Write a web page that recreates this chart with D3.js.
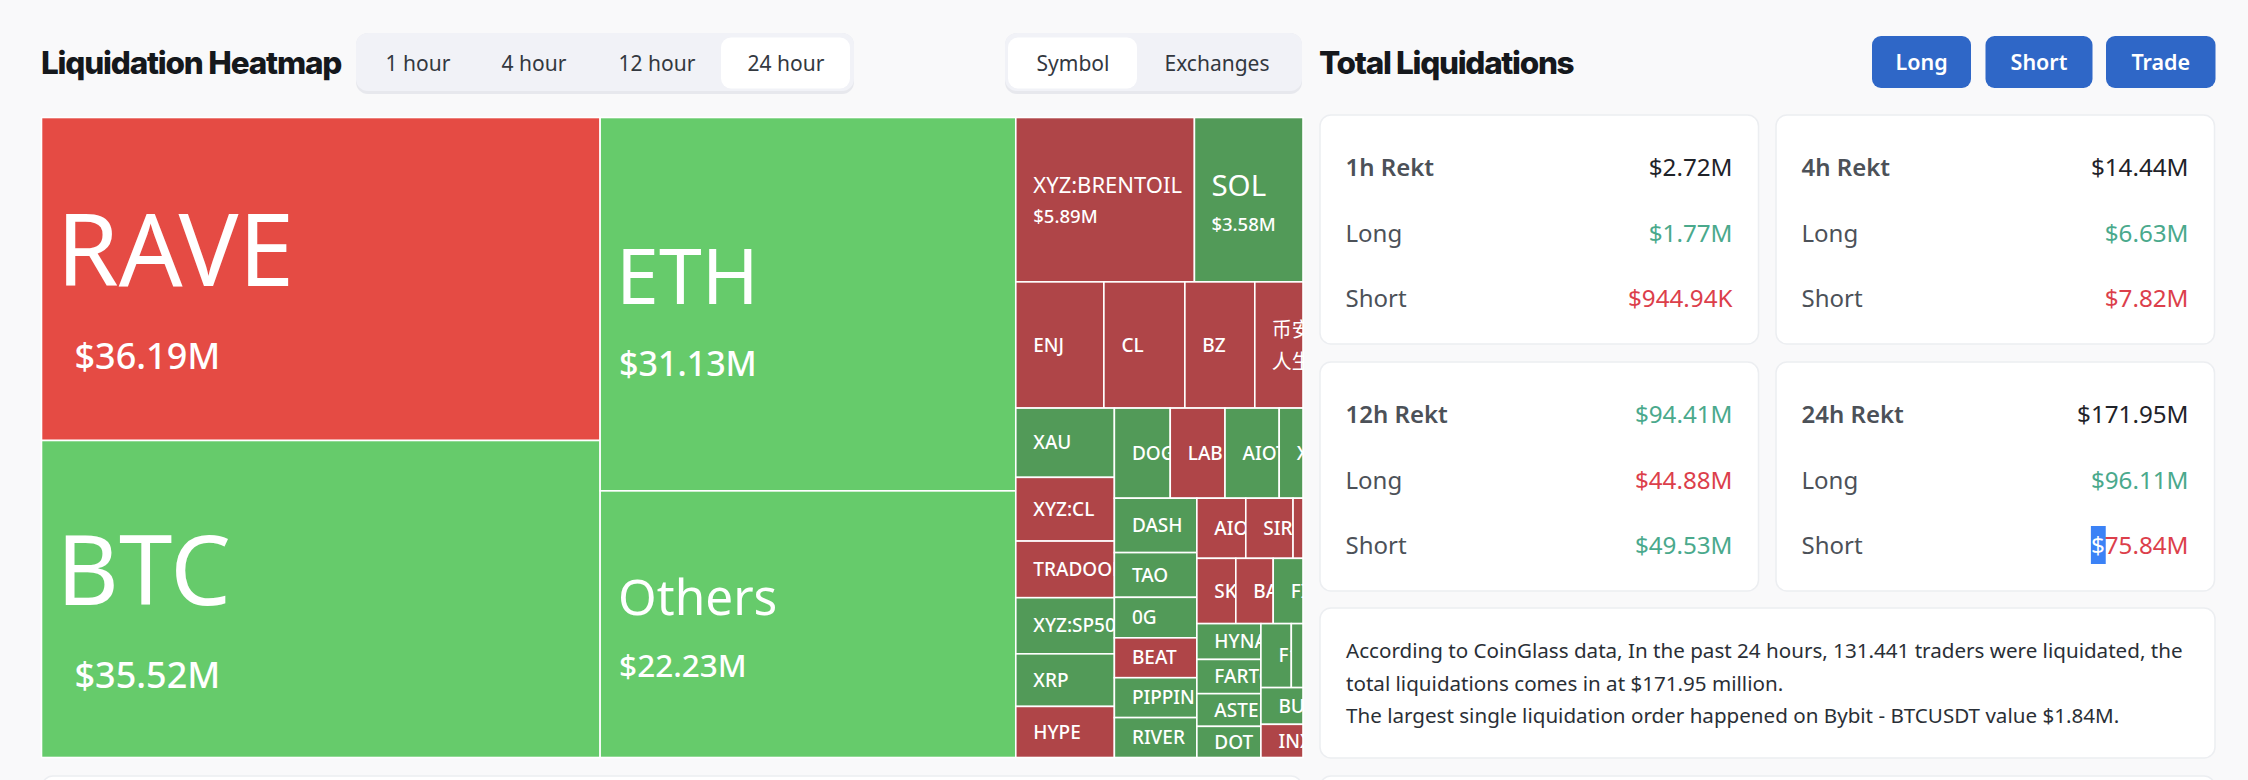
<!DOCTYPE html>
<html>
<head>
<meta charset="utf-8">
<title>Liquidation Heatmap</title>
<script src="https://cdn.jsdelivr.net/npm/d3@7"></script>
<style>
html, body { margin: 0; padding: 0; background: #f9f9fa; overflow: hidden; }
text { font-family: "Noto Sans", "Noto Sans CJK SC", sans-serif; }
text.heading { font-family: Inter, "Noto Sans", sans-serif; }
</style>
</head>
<body>
<div id="chart"></div>
<script>
// treemap cells, $M. groups have no value, nesting alternates columns / rows
var cellIds = ["root",
    "c1", "RAVE", "BTC",
    "c2", "ETH", "Others",
    "c3",
    "r1", "XYZ:BRENTOIL", "SOL",
    "r2", "ENJ", "CL", "BZ", "币安人生",
    "r3",
    "r3a", "XAU", "XYZ:CL", "TRADOOR", "XYZ:SP500", "XRP", "HYPE",
    "r3b",
    "r4", "DOGE", "LAB", "AIOT", "XPL",
    "r5",
    "r5a", "DASH", "TAO", "0G", "BEAT", "PIPPIN", "RIVER",
    "r5b",
    "r6", "AIO", "SIREN", "?1",
    "r7", "SKY", "BAN", "FIL",
    "r8",
    "r8a", "HYNA", "FARTCOIN", "ASTER", "DOT",
    "r8b",
    "r9", "F1", "?2",
    "BULL", "INX"];
var cellParents = ["",
    "root", "c1", "c1",
    "root", "c2", "c2",
    "root",
    "c3", "r1", "r1",
    "c3", "r2", "r2", "r2", "r2",
    "c3",
    "r3", "r3a", "r3a", "r3a", "r3a", "r3a", "r3a",
    "r3",
    "r3b", "r4", "r4", "r4", "r4",
    "r3b",
    "r5", "r5a", "r5a", "r5a", "r5a", "r5a", "r5a",
    "r5",
    "r5b", "r6", "r6", "r6",
    "r5b", "r7", "r7", "r7",
    "r5b",
    "r8", "r8a", "r8a", "r8a", "r8a",
    "r8",
    "r8b", "r9", "r9",
    "r8b", "r8b"];
var cellValues = [0,
    0, 36.19, 35.52,
    0, 31.13, 22.23,
    0,
    0, 5.89, 3.58,
    0, 2.23, 2.05, 1.77, 1.22,
    0,
    0, 1.37, 1.26, 1.12, 1.11, 1.04, 1.01,
    0,
    0, 1.01, 0.99, 0.98, 0.43,
    0,
    0, 0.90, 0.74, 0.67, 0.66, 0.66, 0.66,
    0,
    0, 0.59, 0.57, 0.12,
    0, 0.51, 0.49, 0.39,
    0,
    0, 0.46, 0.44, 0.42, 0.40,
    0,
    0, 0.39, 0.15,
    0.31, 0.28];
var downCells = ["RAVE", "XYZ:BRENTOIL", "ENJ", "CL", "BZ", "币安人生", "XYZ:CL", "TRADOOR", "HYPE",
    "LAB", "BEAT", "AIO", "SIREN", "?1", "SKY", "BAN", "INX"];

var periods = ["1 hour", "4 hour", "12 hour", "24 hour"];
var groupings = ["Symbol", "Exchanges"];
var actions = ["Long", "Short", "Trade"];

var rektWindows = ["1h Rekt", "4h Rekt", "12h Rekt", "24h Rekt"];
var rektTotals = ["$2.72M", "$14.44M", "$94.41M", "$171.95M"];
var rektLongs = ["$1.77M", "$6.63M", "$44.88M", "$96.11M"];
var rektShorts = ["$944.94K", "$7.82M", "$49.53M", "$75.84M"];
var totalTones = ["plain", "plain", "up", "plain"];
var longTones = ["up", "up", "down", "up"];
var shortTones = ["down", "down", "up", "down"];

var summaryLines = ["According to CoinGlass data, In the past 24 hours, 131.441 traders were liquidated, the",
    "total liquidations comes in at $171.95 million.",
    "The largest single liquidation order happened on Bybit - BTCUSDT value $1.84M."];

var width = 2248;
var height = 780;
var toneColors = {plain: "#1f2329", up: "#4aa98c", down: "#dc3f4b"};

var svg = d3.select("#chart").append("svg")
    .attr("width", width).attr("height", height)
    .style("display", "block");

svg.append("rect").attr("width", width).attr("height", height).attr("fill", "#f9f9fa");

// label placement for the cells that are large enough to carry a value, offsets from cell left / middle
var bigLabels = {
    "RAVE": {size: 100, dx: 15, dy: -28, valueSize: 36, valueDx: 33, valueDy: 77},
    "BTC": {size: 96, dx: 15, dy: -28, valueSize: 36, valueDx: 33, valueDy: 76},
    "ETH": {size: 77, dx: 16, dy: -27, valueSize: 34, valueDx: 19, valueDy: 60},
    "Others": {size: 49.5, dx: 18, dy: -26, valueSize: 31.5, valueDx: 19, valueDy: 42},
    "XYZ:BRENTOIL": {size: 22, dx: 17.5, dy: -14, valueSize: 18.5, valueDx: 17.5, valueDy: 17},
    "SOL": {size: 29.5, dx: 17, dy: -14, valueSize: 18.5, valueDx: 17, valueDy: 25}
};
var smallSize = 19;

function cellColor(d) {
    var down = downCells.indexOf(d.id) >= 0;
    if (d.value >= 10) return down ? "#e54b44" : "#66cb6b";
    return down ? "#af4548" : "#529a58";
}

function renderTreemap() {

    var rows = cellIds.map(function(id, i) {
        return {id: id, parent: cellParents[i], value: cellValues[i]};
    });

    var root = d3.stratify()
        .id(function(d) {return d.id;})
        .parentId(function(d) {return d.parent || null;})(rows)
        .sum(function(d) {return d.value;});

    d3.treemap()
        .tile(d3.treemapSliceDice)
        .size([1303 - 41.5, 757.5 - 117.5])(root);

    var chartGroup = svg.append("g").attr("transform", "translate(41.5, 117.5)");

    var cell = chartGroup.selectAll("g.cell").data(root.leaves()).enter()
        .append("g").attr("class", "cell")
        .attr("transform", function(d) {return "translate(" + d.x0 + ", " + d.y0 + ")";});

    cell.append("clipPath")
        .attr("id", function(d, i) {return "clip-" + i;})
        .append("rect")
        .attr("width", function(d) {return d.x1 - d.x0;})
        .attr("height", function(d) {return d.y1 - d.y0;});

    cell.append("rect")
        .attr("width", function(d) {return d.x1 - d.x0;})
        .attr("height", function(d) {return d.y1 - d.y0;})
        .attr("fill", cellColor)
        .attr("stroke", "#fff")
        .attr("stroke-width", 1.6);

    var label = cell.append("g")
        .attr("clip-path", function(d, i) {return "url(#clip-" + i + ")";})
        .attr("fill", "#fff");

    label.each(function(d) {

        if (d.id.charAt(0) == "?") return;

        var g = d3.select(this);
        var mid = (d.y1 - d.y0) / 2;
        var big = bigLabels[d.id];

        if (d.id == "币安人生") {
            g.append("text").attr("x", 17).attr("y", mid - 15).attr("dy", "0.35em").attr("font-size", 20).text("币安");
            g.append("text").attr("x", 17).attr("y", mid + 17).attr("dy", "0.35em").attr("font-size", 20).text("人生");
        } else if (big) {
            g.append("text").attr("x", big.dx).attr("y", mid + big.dy).attr("dy", "0.35em")
                .attr("font-size", big.size).text(d.id);
            g.append("text").attr("x", big.valueDx).attr("y", mid + big.valueDy).attr("dy", "0.35em")
                .attr("font-size", big.valueSize).attr("font-weight", 500).text(d3.format("$.2f")(d.value) + "M");
        } else {
            g.append("text").attr("x", 17.5).attr("y", mid).attr("dy", "0.35em")
                .attr("font-size", smallSize).attr("font-weight", 500).text(d.id);
        }
    });
}

function renderToggle(labels, centers, box, activeBox) {

    svg.append("rect").attr("x", box.x).attr("y", 33).attr("width", box.w).attr("height", 61)
        .attr("rx", 12).attr("fill", "#e7e8ed");
    svg.append("rect").attr("x", box.x).attr("y", 33).attr("width", box.w).attr("height", 58)
        .attr("rx", 12).attr("fill", "#f1f2f7");
    svg.append("rect").attr("x", activeBox.x).attr("y", 37.5).attr("width", activeBox.w).attr("height", 51)
        .attr("rx", 10).attr("fill", "#fff");

    svg.selectAll(null).data(labels).enter().append("text")
        .attr("x", function(d, i) {return centers[i];})
        .attr("y", 64).attr("dy", "0.35em")
        .attr("text-anchor", "middle")
        .attr("font-size", 21)
        .attr("fill", "#33383f")
        .text(function(d) {return d;});
}

function renderHeader() {

    svg.append("text").attr("class", "heading").attr("x", 41).attr("y", 63).attr("dy", "0.35em")
        .attr("font-weight", 800).attr("font-size", 31.5)
        .attr("letter-spacing", -1.2).attr("fill", "#15181c")
        .text("Liquidation Heatmap");

    svg.append("text").attr("class", "heading").attr("x", 1319).attr("y", 63).attr("dy", "0.35em")
        .attr("font-weight", 800).attr("font-size", 31.5)
        .attr("letter-spacing", -1.3).attr("fill", "#15181c")
        .text("Total Liquidations");

    renderToggle(periods, [418, 534, 657, 786], {x: 356, w: 498}, {x: 721, w: 129});
    renderToggle(groupings, [1073, 1217], {x: 1005, w: 297}, {x: 1008, w: 129});

    var buttonX = [1872, 1985.5, 2106];
    var buttonW = [99, 107, 109.5];

    var button = svg.selectAll("g.action").data(actions).enter().append("g").attr("class", "action");

    button.append("rect")
        .attr("x", function(d, i) {return buttonX[i];})
        .attr("y", 36).attr("height", 52)
        .attr("width", function(d, i) {return buttonW[i];})
        .attr("rx", 9).attr("fill", "#2f67c7");

    button.append("text")
        .attr("x", function(d, i) {return buttonX[i] + buttonW[i] / 2;})
        .attr("y", 62).attr("dy", "0.35em")
        .attr("text-anchor", "middle")
        .attr("font-size", 21.5).attr("font-weight", 600).attr("fill", "#fff")
        .text(function(d) {return d;});
}

function addCard(x, y, w, h) {
    return svg.append("rect").attr("x", x).attr("y", y).attr("width", w).attr("height", h)
        .attr("rx", 11).attr("fill", "#fff").attr("stroke", "#eceef1").attr("stroke-width", 1.5);
}

function renderCards() {

    var cardX = [1320, 1776, 1320, 1776];
    var cardY = [115, 115, 362, 362];
    var cardW = 438.5;
    var cardH = 229;
    var rowOffset = [53, 119, 184];

    rektWindows.forEach(function(name, i) {

        addCard(cardX[i], cardY[i], cardW, cardH);

        var labels = [name, "Long", "Short"];
        var values = [rektTotals[i], rektLongs[i], rektShorts[i]];
        var tones = [totalTones[i], longTones[i], shortTones[i]];

        labels.forEach(function(label, r) {

            svg.append("text").attr("x", cardX[i] + 25.5).attr("y", cardY[i] + rowOffset[r]).attr("dy", "0.35em")
                .attr("font-size", 24).attr("font-weight", r == 0 ? 600 : 400)
                .attr("fill", "#4c5158").text(label);

            var value = svg.append("text").attr("x", cardX[i] + 412.5).attr("y", cardY[i] + rowOffset[r]).attr("dy", "0.35em")
                .attr("text-anchor", "end").attr("font-size", 24.2)
                .attr("fill", toneColors[tones[r]]);

            // the $ of the last value is selected in the reference
            if (i == 3 && r == 2) {
                value.text(values[r]);
                var box = value.node().getExtentOfChar(0);
                svg.append("rect").attr("x", box.x).attr("y", 526).attr("width", box.width + 1).attr("height", 38)
                    .attr("fill", "#3b82f6");
                value.raise().text(null);
                value.append("tspan").attr("fill", "#fff").text(values[r].charAt(0));
                value.append("tspan").text(values[r].slice(1));
            } else {
                value.text(values[r]);
            }
        });
    });

    addCard(1320, 608, 895, 150);

    svg.selectAll("text.summary").data(summaryLines).enter().append("text")
        .attr("class", "summary")
        .attr("x", 1346)
        .attr("y", function(d, i) {return 651 + i * 32.5;})
        .attr("dy", "0.35em")
        .attr("font-size", 20.6)
        .attr("fill", "#2a2f36")
        .text(function(d) {return d;});

    // tops of the panels that continue below the fold
    addCard(42, 776, 1260, 60);
    addCard(1320, 776, 895, 60);
}

renderHeader();
renderTreemap();
renderCards();
</script>
</body>
</html>
